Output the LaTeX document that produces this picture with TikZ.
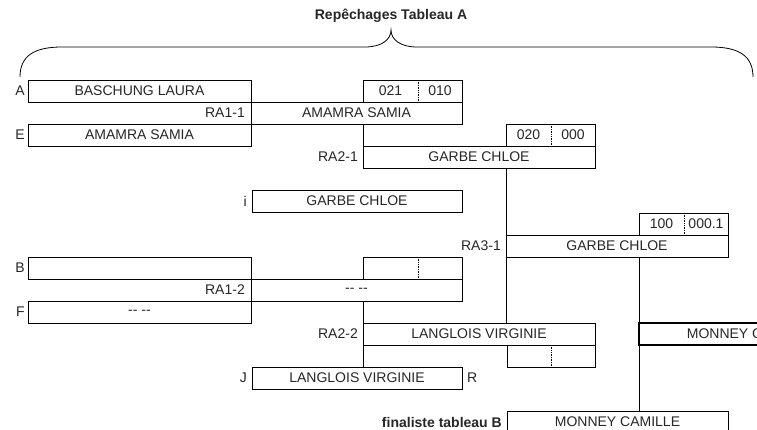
\documentclass[tikz,border=0pt]{standalone}
\usepackage{fontspec}
\setmainfont{Liberation Sans}
\begin{document}
\begin{tikzpicture}[x=1pt,y=-1pt,
  txt/.style={font=\fontsize{14}{16}\selectfont, text=black!85},
  cell/.style={draw, rectangle, inner sep=0pt, outer sep=0pt, anchor=north west,
     line width=0.8pt, minimum height=22pt, txt},
  sc/.style={rectangle, inner sep=0pt, outer sep=0pt, minimum height=22pt, txt},
  div/.style={densely dotted, line width=0.7pt},
  lab/.style={inner sep=0pt, txt},
  link/.style={line width=0.8pt},
  brace/.style={line width=0.8pt}]
\useasboundingbox (0,0) rectangle (757,430);
\clip (0,0) rectangle (757,430);

% title and brace
\node[txt, font=\fontsize{14}{16}\selectfont\bfseries] (title) at (391,16) {Repêchages Tableau A};
\draw[brace] (20,77) .. controls (20,56) and (34,47) .. (62,47) -- (365,47)
  .. controls (381,47) and (391,40) .. (391,30)
  .. controls (391,40) and (401,47) .. (417,47) -- (711,47)
  .. controls (739,47) and (753,56) .. (753,77);

% round 1 - first group
\node[cell, minimum width=223pt] (A) at (28,80) {BASCHUNG LAURA};
\node[cell, minimum width=211pt] (r11) at (251,102) {AMAMRA SAMIA};
\node[cell, minimum width=223pt] (E) at (28,124) {AMAMRA SAMIA};
\node[lab, anchor=east] (lA) at (25,91) {A};
\node[lab, anchor=east] (lr11) at (245,113) {RA1-1};
\node[lab, anchor=east] (lE) at (25,135) {E};

% score RA1-1
\node[cell, minimum width=99pt] (s11) at (363,80) {};
\node[sc, minimum width=55pt, anchor=north west] (s11a) at (s11.north west) {021};
\node[sc, minimum width=44pt, anchor=north east] (s11b) at (s11.north east) {010};
\draw[div] (s11a.north east) -- (s11a.south east);

% RA2-1
\node[cell, minimum width=232pt] (r21) at (363,146) {GARBE CHLOE};
\node[lab, anchor=east] (lr21) at (358,157) {RA2-1};
\node[cell, minimum width=89pt] (s21) at (506,124) {};
\node[sc, minimum width=45pt, anchor=north west] (s21a) at (s21.north west) {020};
\node[sc, minimum width=44pt, anchor=north east] (s21b) at (s21.north east) {000};
\draw[div] (s21a.north east) -- (s21a.south east);

% i
\node[cell, minimum width=210pt] (I) at (252,190) {GARBE CHLOE};
\node[lab, anchor=east] (lI) at (247,201) {i};

% RA3-1
\node[cell, minimum width=222pt] (r31) at (506,235) {GARBE CHLOE};
\node[lab, anchor=east] (lr31) at (501,246) {RA3-1};
\node[cell, minimum width=89pt] (s31) at (639,213) {};
\node[sc, minimum width=45pt, anchor=north west] (s31a) at (s31.north west) {100};
\node[sc, minimum width=44pt, anchor=north east] (s31b) at (s31.north east) {000.1};
\draw[div] (s31a.north east) -- (s31a.south east);

% round 1 - second group
\node[cell, minimum width=223pt] (B) at (28,257) {};
\node[cell, minimum width=211pt] (r12) at (251,279) {{-}{-} {-}{-}};
\node[cell, minimum width=223pt] (F) at (28,301) {{-}{-} {-}{-}};
\node[lab, anchor=east] (lB) at (25,268) {B};
\node[lab, anchor=east] (lr12) at (245,290) {RA1-2};
\node[lab, anchor=east] (lF) at (25,312) {F};
\node[cell, minimum width=99pt] (s12) at (363,257) {};
\node[sc, minimum width=55pt, anchor=north west] (s12a) at (s12.north west) {};
\draw[div] (s12a.north east) -- (s12a.south east);

% RA2-2
\node[cell, minimum width=232pt] (r22) at (363,323) {LANGLOIS VIRGINIE};
\node[lab, anchor=east] (lr22) at (358,334) {RA2-2};
\node[cell, minimum width=88pt] (s22) at (507,345) {};
\node[sc, minimum width=44pt, anchor=north west] (s22a) at (s22.north west) {};
\draw[div] (s22a.north east) -- (s22a.south east);

% J
\node[cell, minimum width=210pt] (J) at (252,367) {LANGLOIS VIRGINIE};
\node[lab, anchor=east] (lJ) at (247,378) {J};
\node[lab, anchor=west] (lR) at (467,378) {R};

% final
\node[cell, minimum width=221pt, line width=2pt] (M1) at (639,323) {MONNEY CAMILLE};
\node[cell, minimum width=221pt] (fin) at (507,411) {MONNEY CAMILLE};
\node[lab, anchor=east, font=\fontsize{14}{16}\selectfont\bfseries] (lfin) at (502,422) {finaliste tableau B};

% connectors
\draw[link] (r21.north west |- r11.south) -- (r21.north west);
\draw[link] (r31.north west |- r21.south) -- (r31.north west);
\draw[link] (r31.south west) -- (r31.south west |- r22.north);
\draw[link] (r22.north west |- r12.south) -- (r22.north west);
\draw[link] (r22.south west) -- (r22.south west |- J.north);
\draw[link] (M1.north west |- r31.south) -- (M1.north west);
\draw[link] (M1.south west) -- (M1.south west |- fin.north);
\end{tikzpicture}
\end{document}
